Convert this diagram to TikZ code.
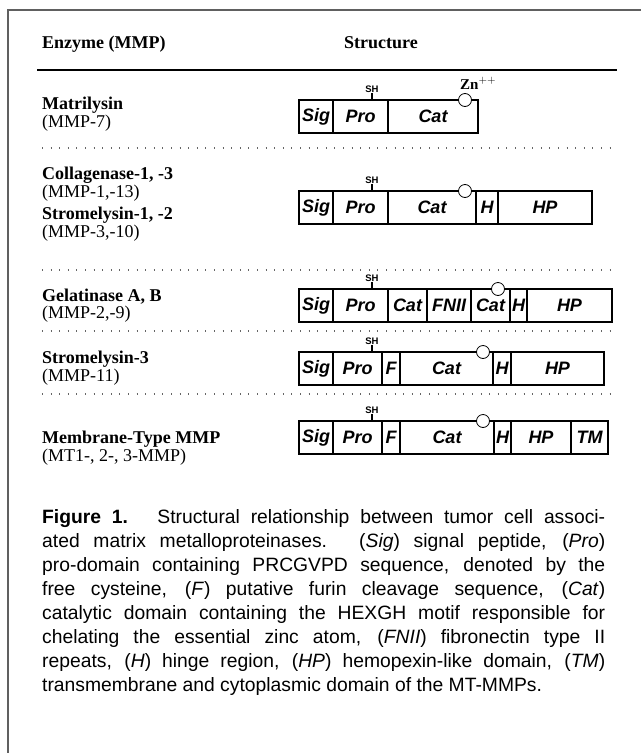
\documentclass[tikz,border=0pt]{standalone}
\usepackage{fontspec}
\setmainfont{Liberation Serif}
\newfontfamily\capfont{Liberation Sans}
\usetikzlibrary{positioning}

% one protein domain: name, left x, right x, top y, label
\newcommand\domain[5]{%
  \node[dombox, minimum width={#3-#2}] (#1) at ({(#2+#3)/2},{#4+16.5}) {#5};}
% cysteine marker above the pro-domain: name prefix, x, top y of the bar
\newcommand\cysmark[3]{%
  \node[shlabel] (#1sh) at (#2,{#3-11}) {SH};
  \draw[shtick] (#1sh.south) -- (#2,#3);}
% zinc site on the catalytic domain
\newcommand\zinc[3]{\node[zncirc] (#1zn) at (#2,#3) {};}

\tikzset{
  dombox/.style={draw, line width=1.9pt, minimum height=33, inner sep=0pt,
    font=\capfont\bfseries\itshape\fontsize{18}{18}\selectfont},
  shlabel/.style={inner sep=0pt, font=\capfont\bfseries\fontsize{9.5}{9.5}\selectfont},
  shtick/.style={line width=1.2pt},
  zncirc/.style={circle, draw, fill=white, line width=0.8pt, minimum size=13, inner sep=0pt},
  lefthead/.style={anchor=base west, inner sep=0pt, font=\bfseries\fontsize{18}{18}\selectfont},
  leftsub/.style={anchor=base west, inner sep=0pt, font=\fontsize{18}{18}\selectfont},
  sep/.style={gray!80!black, line width=1.2pt, dash pattern=on 1pt off 7.6pt},
  capline/.style={anchor=base west, inner sep=0pt, font=\capfont\fontsize{19.3}{24}\selectfont},
}

\begin{document}
\begin{tikzpicture}[x=1pt, y=-1pt]
\useasboundingbox (0,0) rectangle (641,753);
\fill[white] (0,0) rectangle (641,753);

% panel frame (top and left edges)
\draw[gray!75!black, line width=1.6pt] (8,753) -- (8,10) -- (641,10);

% column headings
\node[lefthead] (hEnz) at (42,48) {Enzyme (MMP)};
\node[anchor=base, inner sep=0pt, font=\bfseries\fontsize{18}{18}\selectfont] (hStr) at (381,48) {Structure};
\draw[line width=2.2pt] (37,70) -- (617,70);

% row separators
\draw[sep] (42,148) -- (617,148);
\draw[sep] (42,270) -- (617,270);
\draw[sep] (42,331) -- (617,331);
\draw[sep] (42,394) -- (617,394);

% ---- Matrilysin
\node[lefthead] (n1a) at (42,109) {Matrilysin};
\node[leftsub]  (n1b) at (42,127) {(MMP-7)};
\domain{r1sig}{299}{333}{100}{Sig}
\domain{r1pro}{333}{388}{100}{Pro}
\domain{r1cat}{388}{478}{100}{Cat}
\cysmark{r1}{372}{100}
\zinc{r1}{465}{100}
\node[anchor=base west, inner sep=0pt, font=\bfseries\fontsize{15}{15}\selectfont] (r1znlab) at (460,89) {Zn$^{\mathbf{++}}$};

% ---- Collagenase / Stromelysin-1,-2
\node[lefthead] (n2a) at (42,179) {Collagenase-1, -3};
\node[leftsub]  (n2b) at (42,197) {(MMP-1,-13)};
\node[lefthead] (n2c) at (42,219) {Stromelysin-1, -2};
\node[leftsub]  (n2d) at (42,237) {(MMP-3,-10)};
\domain{r2sig}{299}{333}{191}{Sig}
\domain{r2pro}{333}{388}{191}{Pro}
\domain{r2cat}{388}{476}{191}{Cat}
\domain{r2h}{476}{498}{191}{H}
\domain{r2hp}{498}{592}{191}{HP}
\cysmark{r2}{372}{191}
\zinc{r2}{465}{191}

% ---- Gelatinase A, B
\node[lefthead] (n3a) at (42,301) {Gelatinase A, B};
\node[leftsub]  (n3b) at (42,318) {(MMP-2,-9)};
\domain{r3sig}{299}{333}{289}{Sig}
\domain{r3pro}{333}{388}{289}{Pro}
\domain{r3cata}{388}{427}{289}{Cat}
\domain{r3fn}{427}{471}{289}{FNII}
\domain{r3catb}{471}{510}{289}{Cat}
\domain{r3h}{510}{527}{289}{H}
\domain{r3hp}{527}{612}{289}{HP}
\cysmark{r3}{372}{289}
\zinc{r3}{498}{289}

% ---- Stromelysin-3
\node[lefthead] (n4a) at (42,363) {Stromelysin-3};
\node[leftsub]  (n4b) at (42,381) {(MMP-11)};
\domain{r4sig}{299}{333}{352}{Sig}
\domain{r4pro}{333}{382}{352}{Pro}
\domain{r4f}{382}{400}{352}{F}
\domain{r4cat}{400}{493}{352}{Cat}
\domain{r4h}{493}{511}{352}{H}
\domain{r4hp}{511}{604}{352}{HP}
\cysmark{r4}{372}{352}
\zinc{r4}{483}{352}

% ---- Membrane-type MMP
\node[lefthead] (n5a) at (42,443) {Membrane-Type MMP};
\node[leftsub]  (n5b) at (42,461) {(MT1-, 2-, 3-MMP)};
\domain{r5sig}{299}{333}{421}{Sig}
\domain{r5pro}{333}{382}{421}{Pro}
\domain{r5f}{382}{400}{421}{F}
\domain{r5cat}{400}{494}{421}{Cat}
\domain{r5h}{494}{511}{421}{H}
\domain{r5hp}{511}{571}{421}{HP}
\domain{r5tm}{571}{608}{421}{TM}
\cysmark{r5}{372}{421}
\zinc{r5}{483}{421}

% ---- legend
\node[capline] (c1) at (42,523) {\makebox[563pt][s]{\textbf{Figure 1.}\hspace{0.3em} Structural relationship between tumor cell associ-}};
\node[capline] (c2) at (42,547) {\makebox[563pt][s]{ated matrix metalloproteinases. (\textit{Sig}) signal peptide, (\textit{Pro})}};
\node[capline] (c3) at (42,571) {\makebox[563pt][s]{pro-domain containing PRCGVPD sequence, denoted by the}};
\node[capline] (c4) at (42,595) {\makebox[563pt][s]{free cysteine, (\textit{F}) putative furin cleavage sequence, (\textit{Cat})}};
\node[capline] (c5) at (42,619) {\makebox[563pt][s]{catalytic domain containing the HEXGH motif responsible for}};
\node[capline] (c6) at (42,643) {\makebox[563pt][s]{chelating the essential zinc atom, (\textit{FNII}) fibronectin type II}};
\node[capline] (c7) at (42,667) {\makebox[563pt][s]{repeats, (\textit{H}) hinge region, (\textit{HP}) hemopexin-like domain, (\textit{TM})}};
\node[capline] (c8) at (42,691) {transmembrane and cytoplasmic domain of the MT-MMPs.};
\end{tikzpicture}
\end{document}
